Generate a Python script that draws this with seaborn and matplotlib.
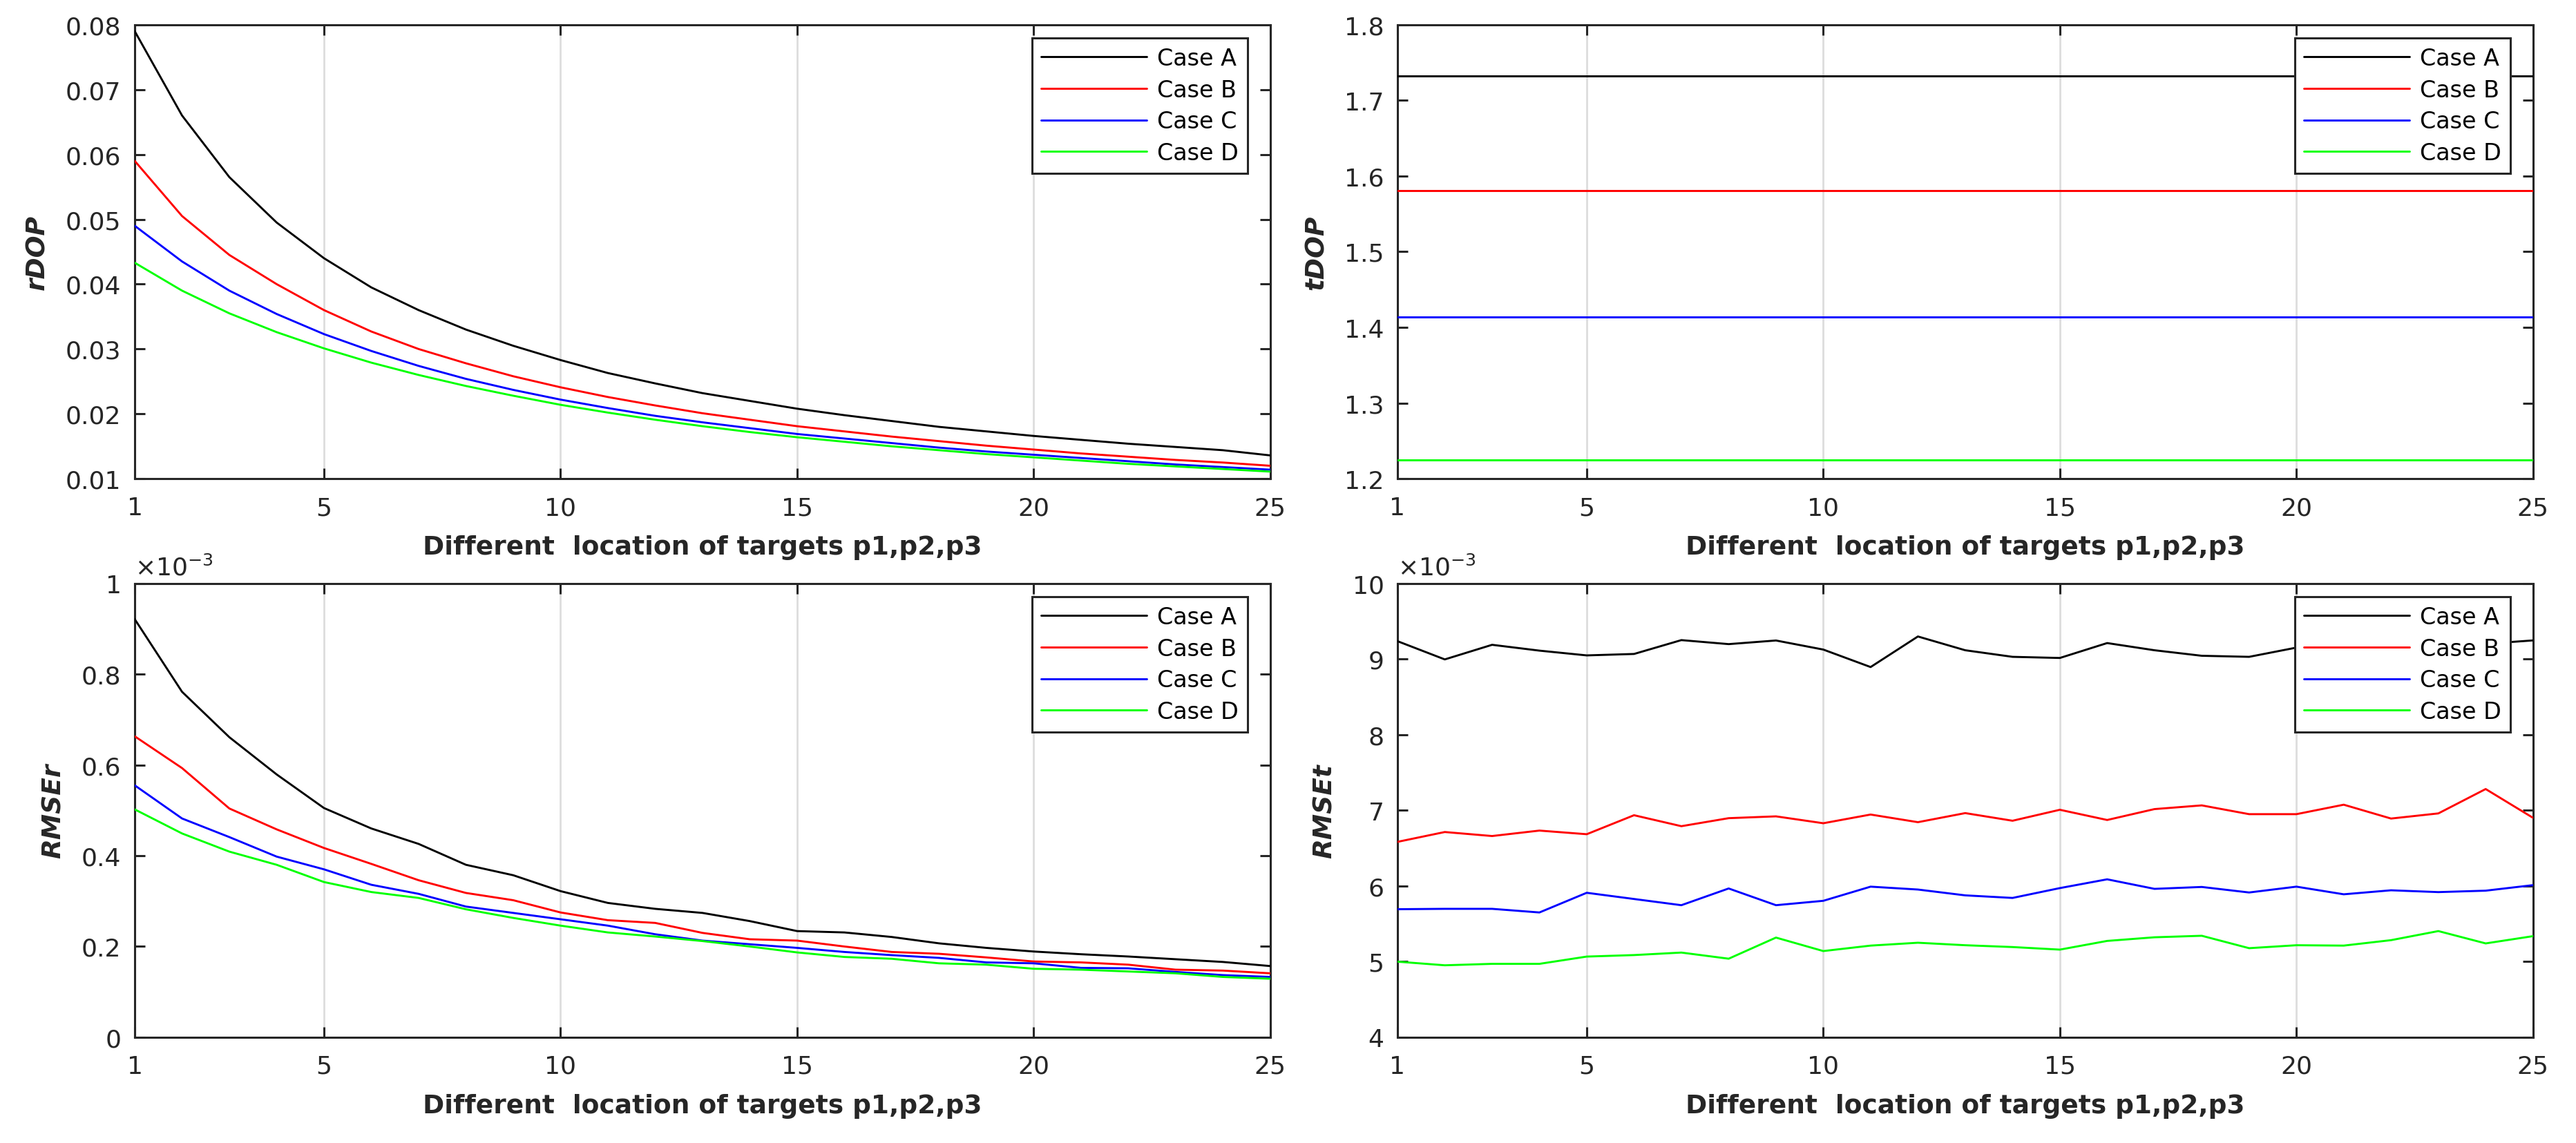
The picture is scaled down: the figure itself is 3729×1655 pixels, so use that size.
import numpy as np
import pandas as pd
import matplotlib
matplotlib.use("Agg")
import matplotlib.pyplot as plt
from matplotlib.ticker import FuncFormatter
import seaborn as sns

# ---------------- data ----------------
locations = list(range(1, 26))
cases = ["Case A", "Case B", "Case C", "Case D"]
case_colors = ["#000000", "#ff0000", "#0000ff", "#00ff00"]

rdop_a = [0.0790, 0.0660, 0.0565, 0.0495, 0.0440, 0.0395, 0.0360, 0.0330, 0.0305, 0.0283,
          0.0263, 0.0247, 0.0232, 0.0220, 0.0208, 0.0198, 0.0189, 0.0180, 0.0173, 0.0166,
          0.0160, 0.0154, 0.0149, 0.0144, 0.0136]
rdop_b = [0.0590, 0.0505, 0.0445, 0.0400, 0.0360, 0.0327, 0.0300, 0.0278, 0.0258, 0.0241,
          0.0226, 0.0213, 0.0201, 0.0191, 0.0181, 0.0173, 0.0165, 0.0158, 0.0151, 0.0145,
          0.0139, 0.0134, 0.0129, 0.0125, 0.0120]
rdop_c = [0.0490, 0.0435, 0.0390, 0.0354, 0.0323, 0.0297, 0.0274, 0.0254, 0.0237, 0.0222,
          0.0209, 0.0197, 0.0187, 0.0178, 0.0169, 0.0162, 0.0155, 0.0148, 0.0142, 0.0137,
          0.0132, 0.0127, 0.0122, 0.0118, 0.0114]
rdop_d = [0.0433, 0.0390, 0.0355, 0.0326, 0.0301, 0.0279, 0.0260, 0.0243, 0.0228, 0.0214,
          0.0202, 0.0191, 0.0181, 0.0172, 0.0164, 0.0157, 0.0150, 0.0144, 0.0138, 0.0133,
          0.0128, 0.0123, 0.0119, 0.0115, 0.0111]

tdop_a = [1.732, 1.732, 1.732, 1.732, 1.732, 1.732, 1.732, 1.732, 1.732, 1.732,
          1.732, 1.732, 1.732, 1.732, 1.732, 1.732, 1.732, 1.732, 1.732, 1.732,
          1.732, 1.732, 1.732, 1.732, 1.732]
tdop_b = [1.581, 1.581, 1.581, 1.581, 1.581, 1.581, 1.581, 1.581, 1.581, 1.581,
          1.581, 1.581, 1.581, 1.581, 1.581, 1.581, 1.581, 1.581, 1.581, 1.581,
          1.581, 1.581, 1.581, 1.581, 1.581]
tdop_c = [1.414, 1.414, 1.414, 1.414, 1.414, 1.414, 1.414, 1.414, 1.414, 1.414,
          1.414, 1.414, 1.414, 1.414, 1.414, 1.414, 1.414, 1.414, 1.414, 1.414,
          1.414, 1.414, 1.414, 1.414, 1.414]
tdop_d = [1.225, 1.225, 1.225, 1.225, 1.225, 1.225, 1.225, 1.225, 1.225, 1.225,
          1.225, 1.225, 1.225, 1.225, 1.225, 1.225, 1.225, 1.225, 1.225, 1.225,
          1.225, 1.225, 1.225, 1.225, 1.225]

# RMSEr in units of 1e-3
rmser_a = [0.921, 0.761, 0.661, 0.579, 0.505, 0.460, 0.426, 0.380, 0.357, 0.322,
           0.296, 0.283, 0.274, 0.256, 0.234, 0.231, 0.221, 0.207, 0.197, 0.189,
           0.183, 0.178, 0.172, 0.166, 0.157]
rmser_b = [0.663, 0.593, 0.504, 0.458, 0.417, 0.382, 0.346, 0.318, 0.302, 0.275,
           0.258, 0.252, 0.230, 0.216, 0.213, 0.200, 0.188, 0.184, 0.176, 0.167,
           0.165, 0.160, 0.149, 0.147, 0.141]
rmser_c = [0.555, 0.482, 0.441, 0.398, 0.370, 0.336, 0.316, 0.288, 0.274, 0.260,
           0.246, 0.227, 0.213, 0.205, 0.197, 0.188, 0.181, 0.175, 0.165, 0.163,
           0.153, 0.152, 0.144, 0.137, 0.133]
rmser_d = [0.502, 0.449, 0.409, 0.380, 0.342, 0.320, 0.307, 0.282, 0.263, 0.246,
           0.231, 0.222, 0.212, 0.200, 0.187, 0.177, 0.173, 0.163, 0.160, 0.151,
           0.149, 0.145, 0.141, 0.133, 0.129]

# RMSEt in units of 1e-3
rmset_a = [9.235, 8.994, 9.187, 9.110, 9.047, 9.066, 9.249, 9.196, 9.244, 9.124,
           8.893, 9.297, 9.115, 9.028, 9.013, 9.210, 9.115, 9.042, 9.028, 9.150,
           9.200, 9.120, 9.170, 9.200, 9.245]
rmset_b = [6.583, 6.713, 6.660, 6.732, 6.684, 6.935, 6.790, 6.896, 6.920, 6.829,
           6.944, 6.843, 6.963, 6.862, 7.007, 6.872, 7.016, 7.065, 6.949, 6.949,
           7.074, 6.891, 6.959, 7.281, 6.901]
rmset_c = [5.693, 5.698, 5.698, 5.650, 5.910, 5.828, 5.746, 5.967, 5.746, 5.804,
           5.991, 5.953, 5.876, 5.842, 5.972, 6.088, 5.962, 5.987, 5.914, 5.991,
           5.890, 5.943, 5.919, 5.938, 6.011]
rmset_d = [5.000, 4.952, 4.971, 4.971, 5.067, 5.087, 5.120, 5.039, 5.318, 5.140,
           5.212, 5.250, 5.217, 5.193, 5.159, 5.274, 5.322, 5.342, 5.178, 5.217,
           5.212, 5.284, 5.404, 5.241, 5.337]

x_ticks = [1, 5, 10, 15, 20, 25]
xlabel_text = "Different  location of targets p1,p2,p3"

# ---------------- style ----------------
sns.set_theme(style="white")
plt.rcParams["font.family"] = ["DejaVu Sans"]
plt.rcParams["mathtext.fontset"] = "dejavusans"

AX_COLOR = "#262626"
TICK_FS = 13
LABEL_FS = 13.5
LEG_FS = 12

fig = plt.figure(figsize=(18.645, 8.28), dpi=200)

W = 0.4408
H = 0.3970
positions = [
    [0.0523, 0.5808, W, H],
    [0.5425, 0.5808, W, H],
    [0.0523, 0.0924, W, H],
    [0.5425, 0.0924, W, H],
]

panels = [
    dict(series=[rdop_a, rdop_b, rdop_c, rdop_d], scale=1.0, ylim=(0.01, 0.08),
         yticks=[0.01, 0.02, 0.03, 0.04, 0.05, 0.06, 0.07, 0.08], ylabel="rDOP",
         fmt="{:.2f}", offset=False),
    dict(series=[tdop_a, tdop_b, tdop_c, tdop_d], scale=1.0, ylim=(1.2, 1.8),
         yticks=[1.2, 1.3, 1.4, 1.5, 1.6, 1.7, 1.8], ylabel="tDOP",
         fmt="{:.1f}", offset=False),
    dict(series=[rmser_a, rmser_b, rmser_c, rmser_d], scale=1e-3, ylim=(0.0, 1.0e-3),
         yticks=[0.0, 0.2e-3, 0.4e-3, 0.6e-3, 0.8e-3, 1.0e-3], ylabel="RMSEr",
         fmt="{:g}", offset=True),
    dict(series=[rmset_a, rmset_b, rmset_c, rmset_d], scale=1e-3, ylim=(4e-3, 10e-3),
         yticks=[4e-3, 5e-3, 6e-3, 7e-3, 8e-3, 9e-3, 10e-3], ylabel="RMSEt",
         fmt="{:g}", offset=True),
]

for pos, p in zip(positions, panels):
    ax = fig.add_axes(pos)
    ax.set_facecolor("white")
    frames = []
    for name, vals in zip(cases, p["series"]):
        frames.append(pd.DataFrame({
            "location": locations,
            "value": [v * p["scale"] for v in vals],
            "case": name,
        }))
    df = pd.concat(frames, ignore_index=True)
    sns.lineplot(data=df, x="location", y="value", hue="case",
                 palette=dict(zip(cases, case_colors)), hue_order=cases,
                 linewidth=1.05, ax=ax, legend=False, zorder=3)

    ax.set_xlim(1, 25)
    ax.set_ylim(*p["ylim"])
    ax.set_xticks(x_ticks)
    ax.set_yticks(p["yticks"])
    if p["offset"]:
        ax.yaxis.set_major_formatter(FuncFormatter(lambda v, _: "{:g}".format(round(v * 1e3, 6))))
        ax.text(0.0, 1.008, r"$\times\mathdefault{10^{-3}}$", transform=ax.transAxes,
                ha="left", va="bottom", fontsize=TICK_FS, color=AX_COLOR)
    else:
        f = p["fmt"]
        ax.yaxis.set_major_formatter(FuncFormatter(lambda v, _, f=f: f.format(v)))

    ax.xaxis.grid(True, color="#dddddd", linewidth=1.0, zorder=0)
    ax.yaxis.grid(False)
    ax.set_axisbelow(True)

    for s in ax.spines.values():
        s.set_visible(True)
        s.set_color(AX_COLOR)
        s.set_linewidth(1.1)
    ax.tick_params(axis="both", which="major", direction="in", length=5.4, width=1.1,
                   color=AX_COLOR, labelcolor=AX_COLOR, labelsize=TICK_FS,
                   top=True, right=True, bottom=True, left=True)
    ax.tick_params(axis="x", pad=9)
    ax.tick_params(axis="y", pad=7)

    ax.set_xlabel(xlabel_text, fontsize=LABEL_FS, fontweight="bold", color=AX_COLOR, labelpad=8)
    ax.set_ylabel(p["ylabel"], fontsize=LABEL_FS, fontweight="bold", fontstyle="italic",
                  color=AX_COLOR, labelpad=8)

    handles = ax.get_lines()[:4]
    leg = ax.legend(handles, cases, loc="upper right", bbox_to_anchor=(0.980, 0.970),
                    borderaxespad=0.0, fontsize=LEG_FS, frameon=True, fancybox=False,
                    handlelength=4.6, handletextpad=0.45, labelspacing=0.38,
                    borderpad=0.38, framealpha=1.0)
    leg.get_frame().set_edgecolor(AX_COLOR)
    leg.get_frame().set_linewidth(1.1)
    leg.get_frame().set_facecolor("white")
    leg.set_zorder(5)
    for t in leg.get_texts():
        t.set_color("black")

fig.savefig("out.png", dpi=200, facecolor="white")
